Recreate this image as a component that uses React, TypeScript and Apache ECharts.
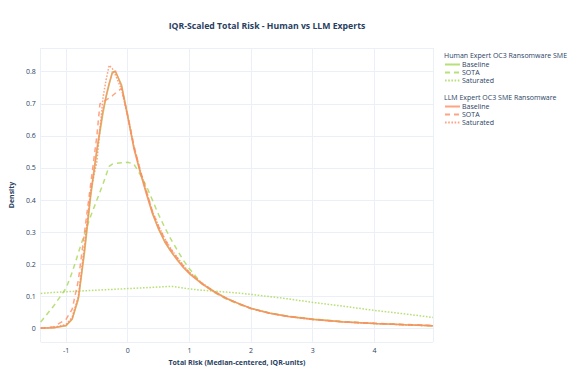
import React, { useEffect, useRef } from "react";
import * as echarts from "echarts";

const xGrid = [-1.41, -1.2, -1.0, -0.9, -0.8, -0.7, -0.6, -0.5, -0.45, -0.4, -0.35, -0.3, -0.25, -0.2, -0.1, 0, 0.1, 0.2, 0.3, 0.4, 0.5, 0.6, 0.7, 0.8, 0.9, 1.0, 1.2, 1.4, 1.6, 1.8, 2.0, 2.3, 2.6, 3.0, 3.5, 4.0, 4.5, 4.95];

const humanBaseline = [0.001, 0.002, 0.008, 0.028, 0.09, 0.235, 0.41, 0.55, 0.61, 0.67, 0.72, 0.76, 0.8, 0.8, 0.76, 0.665, 0.565, 0.49, 0.425, 0.36, 0.31, 0.27, 0.24, 0.215, 0.192, 0.172, 0.14, 0.115, 0.094, 0.077, 0.063, 0.048, 0.038, 0.029, 0.021, 0.0155, 0.011, 0.008];
const humanSota = [0.02, 0.07, 0.125, 0.175, 0.235, 0.295, 0.35, 0.4, 0.425, 0.45, 0.478, 0.505, 0.512, 0.514, 0.516, 0.518, 0.512, 0.48, 0.445, 0.4, 0.355, 0.315, 0.278, 0.245, 0.213, 0.186, 0.14, 0.112, 0.091, 0.075, 0.062, 0.048, 0.038, 0.029, 0.021, 0.0155, 0.011, 0.008];
const humanSaturated = [0.109, 0.112, 0.114, 0.115, 0.116, 0.117, 0.118, 0.119, 0.1195, 0.12, 0.1205, 0.121, 0.1215, 0.122, 0.123, 0.124, 0.125, 0.126, 0.127, 0.128, 0.129, 0.13, 0.131, 0.129, 0.126, 0.123, 0.119, 0.116, 0.113, 0.11, 0.106, 0.099, 0.092, 0.081, 0.069, 0.056, 0.045, 0.034];
const llmBaseline = [0.0, 0.002, 0.009, 0.03, 0.095, 0.245, 0.42, 0.56, 0.62, 0.68, 0.725, 0.765, 0.795, 0.803, 0.755, 0.66, 0.56, 0.488, 0.42, 0.358, 0.31, 0.27, 0.24, 0.214, 0.19, 0.17, 0.139, 0.114, 0.093, 0.077, 0.062, 0.047, 0.037, 0.028, 0.02, 0.015, 0.011, 0.008];
const llmSota = [0.0, 0.005, 0.028, 0.06, 0.15, 0.3, 0.45, 0.6, 0.7, 0.706, 0.712, 0.718, 0.725, 0.733, 0.748, 0.665, 0.57, 0.495, 0.43, 0.365, 0.318, 0.278, 0.246, 0.22, 0.195, 0.174, 0.141, 0.115, 0.094, 0.077, 0.062, 0.047, 0.037, 0.028, 0.02, 0.016, 0.012, 0.009];
const llmSaturated = [0.001, 0.003, 0.012, 0.035, 0.1, 0.26, 0.43, 0.52, 0.62, 0.72, 0.775, 0.82, 0.81, 0.79, 0.745, 0.66, 0.568, 0.495, 0.43, 0.365, 0.32, 0.28, 0.248, 0.222, 0.197, 0.175, 0.142, 0.116, 0.094, 0.077, 0.062, 0.047, 0.037, 0.028, 0.02, 0.015, 0.011, 0.008];

const groupTitles = ["Human Expert OC3 Ransomware SME", "LLM Expert OC3 SME Ransomware"];
const scenarioNames = ["Baseline", "SOTA", "Saturated"];

const GREEN = "#a6d854";
const ORANGE = "#fc8d62";
const FONT = "'Open Sans', sans-serif";
const TEXT = "#2a3f5f";

export default function App() {
  const ref = useRef<HTMLDivElement>(null);
  useEffect(() => {
    if (!ref.current) return;
    const chart = echarts.init(ref.current, null, { renderer: "svg" });
    const dashes: any[] = ["solid", [5, 4], [1.6, 1.6]];
    const groups = [
      { key: "H", color: GREEN, data: [humanBaseline, humanSota, humanSaturated] },
      { key: "L", color: ORANGE, data: [llmBaseline, llmSota, llmSaturated] },
    ];
    const series: any[] = [];
    groups.forEach((g) => {
      g.data.forEach((ys, i) => {
        series.push({
          type: "line",
          name: g.key + "|" + scenarioNames[i],
          data: xGrid.map((x, j) => [x, ys[j]]),
          showSymbol: false,
          symbol: "none",
          smooth: false,
          lineStyle: { color: g.color, width: 1.5, type: dashes[i], opacity: 0.8 },
          itemStyle: { color: g.color },
          z: g.key === "L" ? 3 : 2,
        });
      });
    });
    const legendCommon = {
      orient: "vertical",
      left: 444,
      itemWidth: 15,
      itemHeight: 8,
      itemGap: 1,
      itemStyle: { opacity: 0 },
      textStyle: { fontFamily: FONT, fontSize: 7, color: TEXT, padding: [0, 0, 0, -3] },
      formatter: (name: string) => name.split("|")[1],
      selectedMode: false,
      padding: 0,
    };
    chart.setOption({
      animation: false,
      backgroundColor: "#ffffff",
      title: [
        {
          text: "IQR-Scaled Total Risk - Human vs LLM Experts",
          left: 262,
          top: 16,
          textAlign: "center",
          textStyle: { fontFamily: FONT, fontSize: 8.7, fontWeight: "bold", color: TEXT },
        },
        {
          text: groupTitles[0],
          left: 444,
          top: 52,
          padding: 0,
          textStyle: { fontFamily: FONT, fontSize: 7, fontWeight: "normal", color: TEXT },
        },
        {
          text: groupTitles[1],
          left: 444,
          top: 94,
          padding: 0,
          textStyle: { fontFamily: FONT, fontSize: 7, fontWeight: "normal", color: TEXT },
        },
      ],
      legend: [
        { ...legendCommon, top: 61, data: scenarioNames.map((n) => "H|" + n) },
        { ...legendCommon, top: 103, data: scenarioNames.map((n) => "L|" + n) },
      ],
      grid: { left: 38.5, right: 141, top: 48, bottom: 28 },
      xAxis: {
        type: "value",
        min: -1.41,
        max: 4.95,
        name: "Total Risk (Median-centered, IQR-units)",
        nameLocation: "middle",
        nameGap: 17,
        nameTextStyle: { fontFamily: FONT, fontSize: 7, fontWeight: "bold", color: TEXT },
        axisLine: { show: false },
        axisTick: { show: false },
        axisLabel: { fontFamily: FONT, fontSize: 7, color: TEXT, margin: 5, showMinLabel: false, showMaxLabel: false },
        splitLine: { show: true, lineStyle: { color: "#ebf0f8", width: 1 } },
      },
      yAxis: {
        type: "value",
        min: -0.0425,
        max: 0.874,
        splitNumber: 9,
        name: "Density",
        nameLocation: "middle",
        nameRotate: 90,
        nameGap: 21,
        nameTextStyle: { fontFamily: FONT, fontSize: 7, fontWeight: "bold", color: TEXT },
        axisLine: { show: false },
        axisTick: { show: false },
        axisLabel: { fontFamily: FONT, fontSize: 7, color: TEXT, margin: 5, showMinLabel: false, showMaxLabel: false },
        splitLine: { show: true, lineStyle: { color: "#ebf0f8", width: 1 } },
      },
      series,
    });
    return () => chart.dispose();
  }, []);
  return <div ref={ref} style={{ width: 574, height: 371, position: "absolute", left: 0, top: 0 }} />;
}
